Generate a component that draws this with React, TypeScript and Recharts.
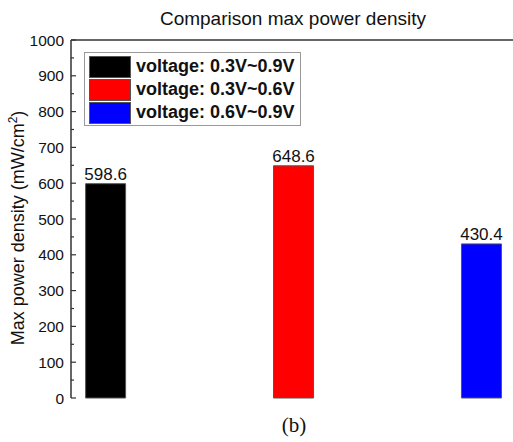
import React from 'react';
import { BarChart, Bar, XAxis, YAxis, Cell, LabelList, ReferenceLine, Legend } from 'recharts';

const positions = [1, 2, 3];
const values = [598.6, 648.6, 430.4];
const seriesNames = ['voltage: 0.3V~0.9V', 'voltage: 0.3V~0.6V', 'voltage: 0.6V~0.9V'];
const colors = ['#000000', '#ff0000', '#0000ff'];
const yTicks = [0, 50, 100, 150, 200, 250, 300, 350, 400, 450, 500, 550, 600, 650, 700, 750, 800, 850, 900, 950, 1000];

const data = positions.map((x, i) => ({ x, value: values[i], name: seriesNames[i] }));

const FONT = '"Liberation Sans", Arial, Helvetica, sans-serif';
const AXIS = '#333333';

const YTick = (props: any) => {
  const { x, y, payload } = props;
  const major = payload.value % 100 === 0;
  return (
    <g>
      <line x1={x} x2={x + (major ? 5 : 3)} y1={y} y2={y} stroke={AXIS} strokeWidth={1.2} />
      {major && (
        <text x={x - 7} y={y} dy={5.5} textAnchor="end" fontSize={15.5} fontFamily={FONT} fill="#111">
          {payload.value}
        </text>
      )}
    </g>
  );
};

const YLabel = (props: any) => {
  const vb = props.viewBox || { x: 0, y: 40, width: 71, height: 358 };
  const cx = vb.x + 24;
  const cy = vb.y + vb.height / 2 + 9;
  return (
    <text
      x={cx}
      y={cy}
      transform={`rotate(-90 ${cx} ${cy})`}
      textAnchor="middle"
      fontSize={18}
      fontFamily={FONT}
      fill="#111"
    >
      Max power density (mW/cm
      <tspan dy={-7} fontSize={12}>2</tspan>
      <tspan dy={7}>)</tspan>
    </text>
  );
};

const LegendBox = () => (
  <div
    style={{
      border: '1px solid #999',
      background: '#fff',
      padding: '2px 5px 1px 4px',
      fontFamily: FONT,
    }}
  >
    {seriesNames.map((n, i) => (
      <div key={n} style={{ display: 'flex', alignItems: 'center', height: 23 }}>
        <div
          style={{
            width: 40,
            height: 20,
            background: colors[i],
            border: '1px solid #555',
            marginRight: 5,
          }}
        />
        <span style={{ fontSize: 18, fontWeight: 'bold', color: '#111', whiteSpace: 'nowrap' }}>{n}</span>
      </div>
    ))}
  </div>
);

export default function App() {
  return (
    <div style={{ position: 'absolute', left: 0, top: 0, width: 513, height: 442, background: '#fff' }}>
      <div
        style={{
          position: 'absolute',
          left: 0,
          width: 586,
          top: 8,
          textAlign: 'center',
          fontFamily: FONT,
          fontSize: 19,
          color: '#111',
          whiteSpace: 'nowrap',
        }}
      >
        Comparison max power density
      </div>
      <BarChart
        width={513}
        height={442}
        data={data}
        margin={{ top: 40, right: 0, bottom: 44, left: 0 }}
        style={{ position: 'absolute', left: 0, top: 0 }}
      >
        <XAxis
          type="number"
          dataKey="x"
          domain={[0.816, 3.168]}
          allowDataOverflow
          tick={false}
          tickLine={false}
          height={0}
          axisLine={{ stroke: AXIS, strokeWidth: 1.5 }}
        />
        <YAxis
          type="number"
          domain={[0, 1000]}
          ticks={yTicks}
          interval={0}
          width={71}
          tickLine={false}
          tickSize={0}
          tickMargin={0}
          tick={<YTick />}
          axisLine={{ stroke: AXIS, strokeWidth: 1.5 }}
          label={<YLabel />}
        />
        <ReferenceLine y={1000} stroke={AXIS} strokeWidth={1.5} ifOverflow="extendDomain" />
        <Legend
          layout="horizontal"
          verticalAlign="middle"
          align="center"
          content={<LegendBox />}
          wrapperStyle={{ left: 84, top: 52, width: 'auto', height: 'auto' }}
        />
        <Bar dataKey="value" barSize={40} isAnimationActive={false} stroke="#555" strokeWidth={1}>
          {data.map((d, i) => (
            <Cell key={d.name} fill={colors[i]} />
          ))}
          <LabelList
            dataKey="value"
            position="top"
            offset={4}
            fontSize={17}
            fontFamily={FONT}
            fill="#111"
          />
        </Bar>
      </BarChart>
      <div
        style={{
          position: 'absolute',
          left: 0,
          width: 588,
          top: 413,
          textAlign: 'center',
          fontFamily: '"Liberation Serif", "Times New Roman", serif',
          fontSize: 21,
          color: '#111',
        }}
      >
        (b)
      </div>
    </div>
  );
}
